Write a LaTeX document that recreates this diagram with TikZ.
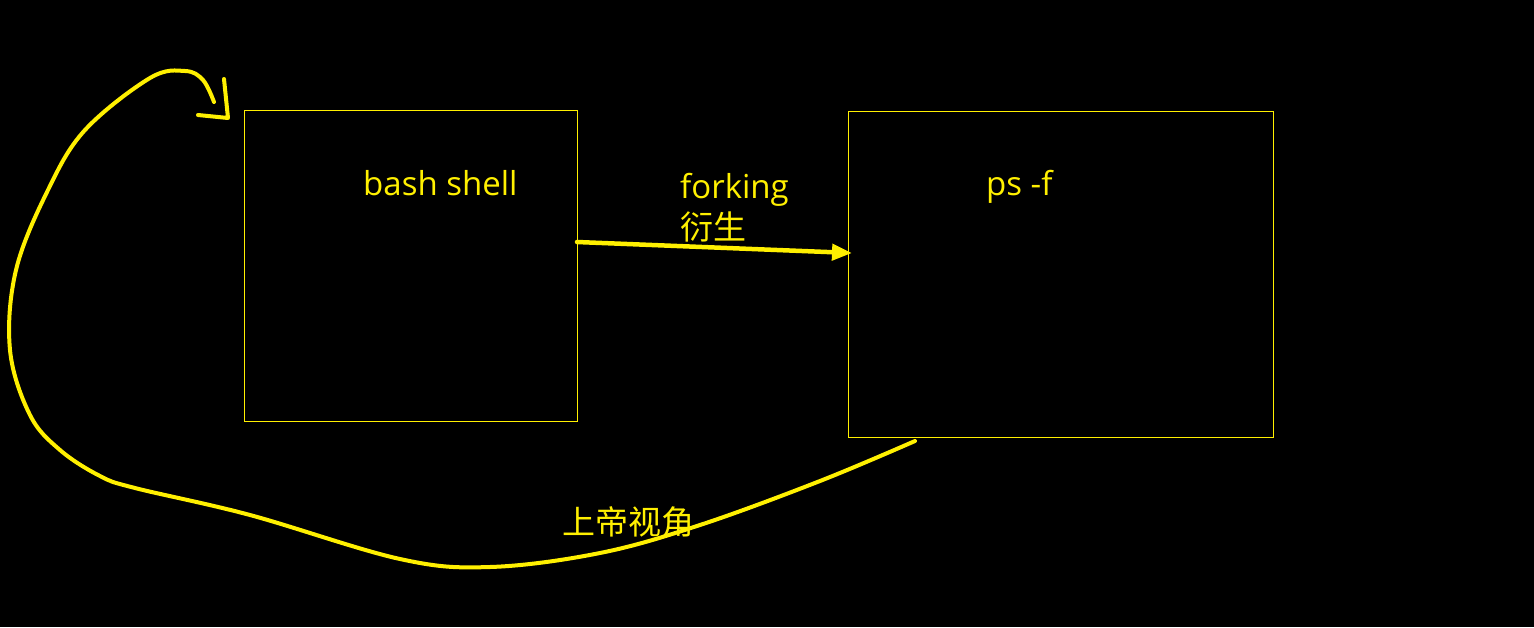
\documentclass[tikz,border=0pt]{standalone}
\usepackage{fontspec}
\setmainfont{Open Sans}
\newfontfamily\cjk{Noto Sans CJK SC}
\usetikzlibrary{arrows.meta}
\definecolor{yel}{RGB}{255,240,0}
\tikzset{
  boxst/.style={draw=yel, line width=1pt},
  lbl/.style={text=yel, font=\fontsize{33}{39}\selectfont, inner sep=0pt, anchor=base west},
  stroke/.style={draw=yel, line width=4.5pt, line cap=round, line join=round}
}
\begin{document}
\begin{tikzpicture}[x=1pt,y=-1pt]
\fill[black] (0,0) rectangle (1534,627);
\useasboundingbox (0,0) rectangle (1534,627);
\node[boxst, minimum width=333pt, minimum height=311pt, anchor=north west] (b1) at (244,110) {};
\node[boxst, minimum width=425pt, minimum height=326pt, anchor=north west] (b2) at (848,111) {};
\node[lbl] (t1) at (363,195) {bash shell};
\node[lbl] (t2) at (986,195) {ps -f};
\node[lbl] (t3) at (680,198) {forking};
\node[lbl] (t4) at (680,239) {\cjk 衍生};
\node[lbl] (t5) at (562,534) {\cjk 上帝视角};
\coordinate (a1) at (577,242);
\coordinate (a2) at (852,253);
\draw[stroke, -{Triangle[length=20pt,width=16pt]}] (a1) -- (a2);
\coordinate (c0) at (915,441);
\draw[stroke, line width=4pt] plot[smooth, tension=0.6] coordinates {
 (c0) (820,481) (700,525) (600,553) (490,567) (400,559) (250,515) (135,488)
 (100,476) (60,450) (30,415) (10,350) (16,270) (48,190) (85,130) (150,78) (185,71) (203,80) (214,102)};
\coordinate (h1) at (224,79);
\coordinate (h2) at (228,118);
\coordinate (h3) at (198,115);
\draw[stroke, line width=4pt] (h1) -- (h2) -- (h3);
\end{tikzpicture}
\end{document}
